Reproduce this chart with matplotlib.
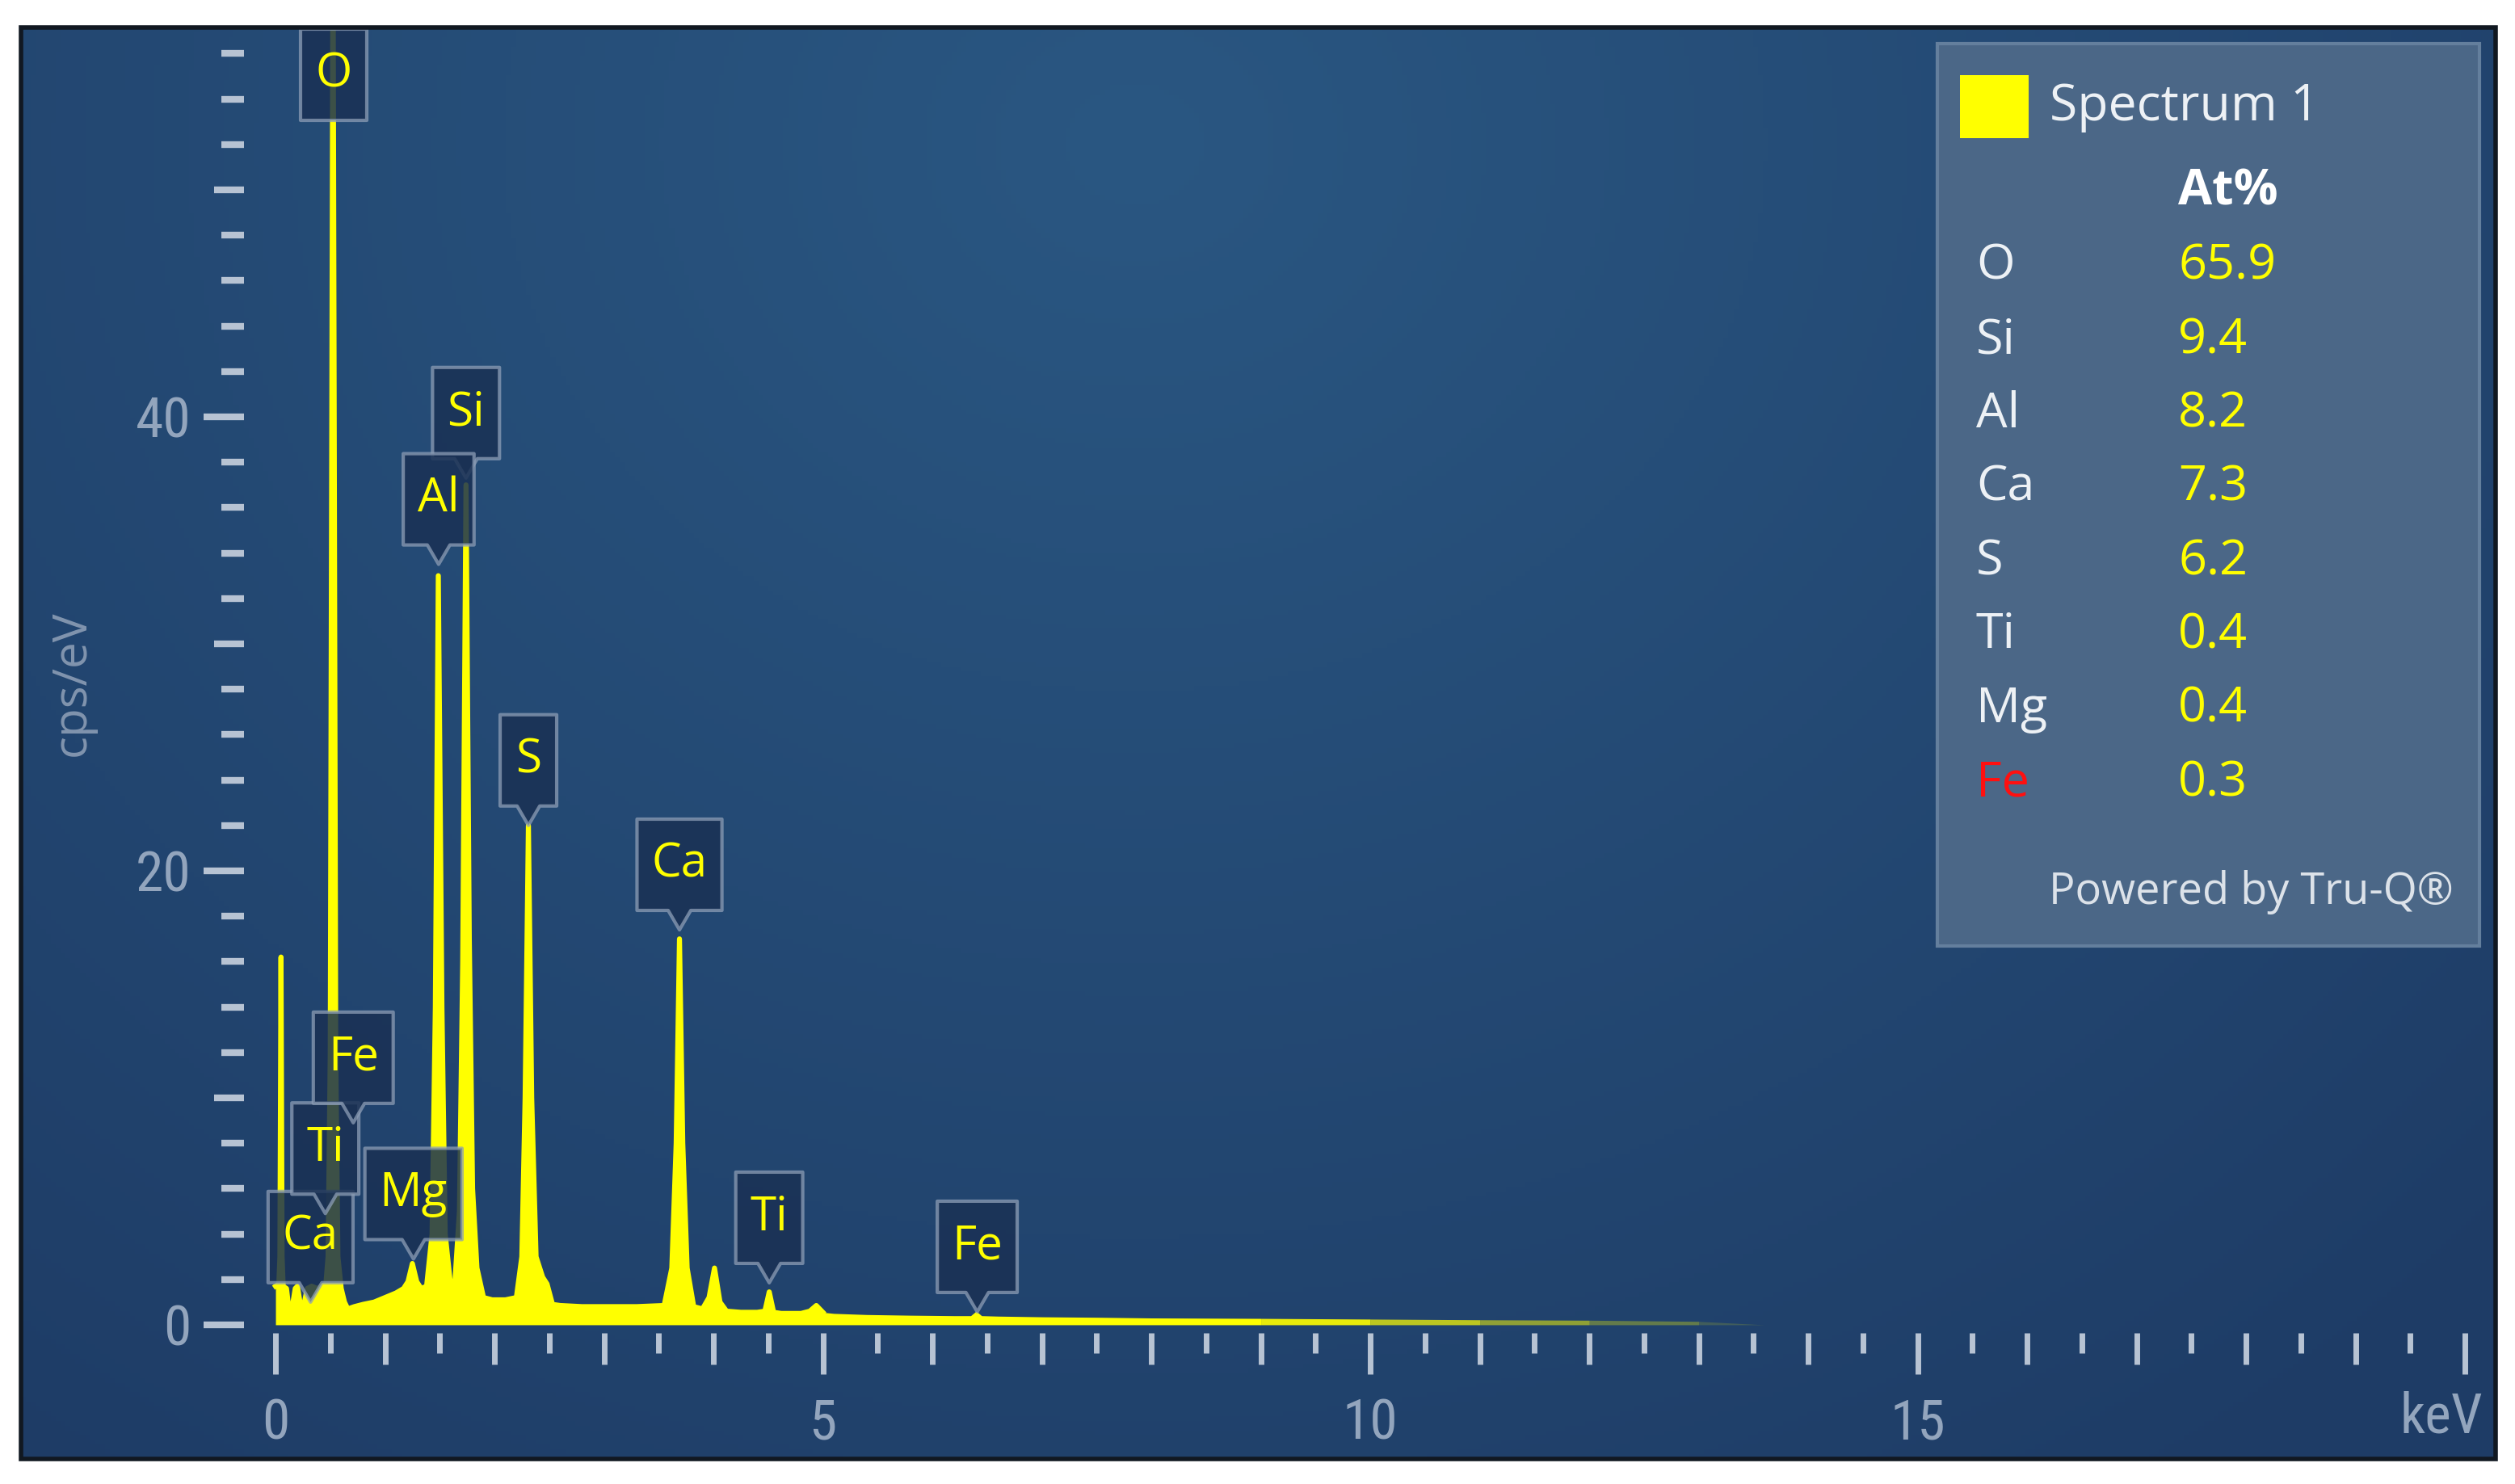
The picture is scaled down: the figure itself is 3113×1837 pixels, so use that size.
import numpy as np
import matplotlib
matplotlib.use('Agg')
import matplotlib.pyplot as plt
import matplotlib.transforms as mtransforms
from matplotlib.patches import Rectangle, Polygon
from matplotlib.ticker import FixedLocator

# spectrum (keV, cps/eV)
spec_kev = [0.00, 0.03, 0.04, 0.05, 0.06, 0.07, 0.10, 0.12, 0.15, 0.18, 0.20, 0.23, 0.26, 0.29,
            0.33, 0.38, 0.42, 0.46, 0.48, 0.50, 0.525, 0.55, 0.57, 0.60, 0.63, 0.66, 0.72, 0.80,
            0.90, 1.00, 1.10, 1.17, 1.21, 1.25, 1.29, 1.33, 1.38, 1.43, 1.46, 1.487, 1.52, 1.55,
            1.60, 1.64, 1.68, 1.71, 1.74, 1.77, 1.80, 1.84, 1.90, 1.98, 2.10, 2.20, 2.25, 2.28,
            2.31, 2.34, 2.38, 2.44, 2.48, 2.53, 2.60, 2.80, 3.00, 3.30, 3.55, 3.62, 3.66, 3.69,
            3.72, 3.76, 3.82, 3.90, 3.96, 4.01, 4.06, 4.12, 4.25, 4.40, 4.47, 4.51, 4.55, 4.62,
            4.80, 4.88, 4.94, 5.00, 5.10, 5.40, 5.80, 6.20, 6.35, 6.40, 6.45, 6.60, 7.00, 7.50,
            8.00, 9.00, 10.0, 11.0, 12.0, 13.0, 13.6]
spec_cps = [1.7, 1.8, 3.0, 16.2, 3.0, 1.7, 1.6, 0.8, 0.7, 1.6, 1.7, 0.8, 0.9, 1.6,
            1.7, 1.6, 1.7, 1.8, 3.0, 12.0, 62.0, 12.0, 3.0, 1.6, 1.0, 0.7, 0.8, 0.9,
            1.0, 1.2, 1.4, 1.6, 1.9, 2.7, 1.9, 1.6, 1.7, 4.0, 14.0, 33.0, 14.0, 4.0,
            1.7, 2.0, 5.0, 16.0, 37.0, 17.0, 6.0, 2.5, 1.2, 1.1, 1.1, 1.2, 3.0, 10.0,
            22.0, 10.0, 3.0, 2.1, 1.8, 0.9, 0.85, 0.8, 0.8, 0.8, 0.85, 2.5, 8.0, 17.0,
            8.0, 2.5, 0.8, 0.7, 1.2, 2.5, 1.0, 0.6, 0.55, 0.55, 0.6, 1.45, 0.55, 0.5,
            0.5, 0.6, 0.85, 0.55, 0.5, 0.45, 0.42, 0.4, 0.4, 0.6, 0.4, 0.38, 0.35, 0.33,
            0.3, 0.28, 0.25, 0.22, 0.2, 0.15, 0.0]

# peak markers: element, energy (keV), height of the pointer tip (cps/eV)
peak_names = ['O', 'Si', 'Al', 'S', 'Ca', 'Ca', 'Ti', 'Fe', 'Mg', 'Ti', 'Fe']
peak_kev = [0.53, 1.74, 1.49, 2.31, 3.69, 0.32, 0.455, 0.71, 1.26, 4.51, 6.41]
peak_tip = [52.2, 37.3, 33.5, 22.0, 17.4, 1.0, 4.9, 8.9, 2.9, 1.85, 0.57]

# quantification table
legend_elements = ['O', 'Si', 'Al', 'Ca', 'S', 'Ti', 'Mg', 'Fe']
legend_at_pct = [65.9, 9.4, 8.2, 7.3, 6.2, 0.4, 0.4, 0.3]

x_major = list(range(0, 21))
x_labels = ['0', '', '', '', '', '5', '', '', '', '', '10', '', '', '', '', '15', '', '', '', '', '']
y_major = [0, 10, 20, 30, 40, 50]
y_labels = ['0', '', '20', '', '40', '']

W, H = 3113, 1837
YELLOW = '#ffff00'
TICK_COL = '#b7c3d3'
LAB_COL = '#93a5bd'
tick_font = ['Liberation Sans Narrow', 'Roboto Condensed', 'DejaVu Sans']
ui_font = ['Open Sans', 'DejaVu Sans']


def fx(px):
    return px / W


def fy(py):
    return 1 - py / H


fig = plt.figure(figsize=(W / 100, H / 100), dpi=100, facecolor='white')
panel = [fx(26), fy(1806), fx(3089) - fx(26), fy(34) - fy(1806)]

# background gradient
bg = fig.add_axes(panel, zorder=0)
yy, xx = np.mgrid[0:1:300j, 0:1:500j]
d = np.clip(np.sqrt(((xx - 0.45) * 1.5) ** 2 + (yy - 0.92) ** 2) / 1.15, 0, 1)[..., None]
c0 = np.array(matplotlib.colors.to_rgb('#2a5782'))
c1 = np.array(matplotlib.colors.to_rgb('#1e3c66'))
bg.imshow(c0 * (1 - d) + c1 * d, extent=[0, 1, 0, 1], origin='lower', aspect='auto')
bg.axis('off')

ax = fig.add_axes(panel, zorder=1)
ax.set_facecolor('none')
ax.set_xlim(-2.325, 20.28)
ax.set_ylim(-5.91, 57.15)

kev = np.array(spec_kev)
cps = np.array(spec_cps)
main = kev <= 9.0
peaks = kev <= 5.0
ax.fill_between(kev[main], cps[main], 0, color=YELLOW, lw=0, zorder=2)
ax.plot(kev[peaks], cps[peaks], color=YELLOW, lw=4.5, zorder=2)
# the tail fades out toward high energies
tail = np.where(kev >= 9.0)[0]
for i in tail[:-1]:
    a = max(0.15, 0.9 - (kev[i] - 9.0) / 5.0)
    ax.fill_between(kev[i:i + 2], cps[i:i + 2], 0, color=YELLOW, lw=0, alpha=a, zorder=2)

# axes: floating ticks, no spines
for s in ax.spines.values():
    s.set_visible(False)
ax.spines['left'].set_position(('data', -0.29))
ax.spines['bottom'].set_position(('data', -0.36))

ax.set_xticks(x_major, x_labels)
ax.xaxis.set_minor_locator(FixedLocator(np.arange(0.5, 20, 1.0)))
ax.tick_params(axis='x', which='major', direction='out', length=28, width=5, color=TICK_COL,
               pad=29, labelsize=50, labelcolor=LAB_COL)
ax.tick_params(axis='x', which='minor', direction='out', length=18, width=5, color=TICK_COL)
for t, loc in zip(ax.xaxis.get_major_ticks(), x_major):
    if loc % 5 == 0:
        t.tick1line.set_markersize(37)

ax.set_yticks(y_major, y_labels)
ax.yaxis.set_minor_locator(FixedLocator(np.arange(0, 57, 2)))
ax.tick_params(axis='y', which='major', direction='out', length=36, width=6, color=TICK_COL,
               pad=11, labelsize=50, labelcolor=LAB_COL)
ax.tick_params(axis='y', which='minor', direction='out', length=20, width=6, color=TICK_COL)
for t, loc in zip(ax.yaxis.get_major_ticks(), y_major):
    if loc % 20 != 0:
        t.tick1line.set_markersize(27)

for lab in ax.get_xticklabels() + ax.get_yticklabels():
    lab.set_family(tick_font)
    lab.set_fontstretch('condensed')

fig.text(fx(3073), fy(1755), 'keV', ha='right', va='center', fontsize=50,
         family=tick_font, fontstretch='condensed', color=LAB_COL)
fig.text(fx(89), fy(846), 'cps/eV', rotation=90, ha='center', va='center',
         fontsize=42, family=ui_font, color='#8194ae')

# peak callouts
renderer = fig.canvas.get_renderer()
box_h, ptr_w = 113, 14
for n, (name, e, tip) in enumerate(zip(peak_names, peak_kev, peak_tip)):
    # the callout pinned to the top of the plot has no visible pointer
    ptr_h = 0 if tip > 50 else 24
    base = 24
    tr = fig.dpi_scale_trans + mtransforms.ScaledTranslation(e, tip, ax.transData)
    txt = ax.text(0, (base + box_h / 2) / 100, name, transform=tr, ha='center', va='center',
                  fontsize=42, family=ui_font, color=YELLOW, zorder=10 + 2 * n + 1)
    tw = txt.get_window_extent(renderer).width
    w = max(tw + 36, 70) / 2
    verts = np.array([(-w, base), (-ptr_w, base), (0, base - ptr_h), (ptr_w, base), (w, base),
                      (w, base + box_h), (-w, base + box_h)]) / 100
    ax.add_patch(Polygon(verts, closed=True, transform=tr, facecolor='#1a3154', alpha=0.85,
                         edgecolor='none', zorder=10 + 2 * n, clip_on=False))
    ax.add_patch(Polygon(verts, closed=True, transform=tr, facecolor='none',
                         edgecolor='#8d9eb6', lw=3, alpha=0.75, joinstyle='round',
                         zorder=10 + 2 * n, clip_on=False))

# quantification box
fig.patches.append(Rectangle((fx(2398), fy(1171)), fx(3069) - fx(2398), fy(54) - fy(1171),
                             transform=fig.transFigure, facecolor='#4b6787',
                             edgecolor='#647f9d', lw=3, zorder=5))
fig.patches.append(Rectangle((fx(2426), fy(171)), fx(2511) - fx(2426), fy(93) - fy(171),
                             transform=fig.transFigure, facecolor=YELLOW, edgecolor='none',
                             zorder=6))
fig.text(fx(2537), fy(133), 'Spectrum 1', ha='left', va='center', fontsize=45,
         family=ui_font, color='#edf1f5', zorder=7)
fig.text(fx(2696), fy(238), 'At%', ha='left', va='center', fontsize=44,
         family=ui_font, weight='bold', color='white', zorder=7)
for i, (el, val) in enumerate(zip(legend_elements, legend_at_pct)):
    ypx = 330 + i * 91.3
    fig.text(fx(2446), fy(ypx), el, ha='left', va='center', fontsize=44, family=ui_font,
             color='#ff1010' if el == 'Fe' else '#edf1f5', zorder=7)
    fig.text(fx(2696), fy(ypx), f'{val:.1f}', ha='left', va='center', fontsize=44,
             family=ui_font, color=YELLOW, zorder=7)
fig.text(fx(3037), fy(1104), 'Powered by Tru-Q\u00ae', ha='right', va='center', fontsize=39,
         family=ui_font, color='#dce2e9', zorder=7)

# panel frame
fig.patches.append(Rectangle((panel[0], panel[1]), panel[2], panel[3], transform=fig.transFigure,
                             facecolor='none', edgecolor='#111821', lw=4, zorder=8))

fig.savefig('out.png', dpi=100, facecolor='white')
